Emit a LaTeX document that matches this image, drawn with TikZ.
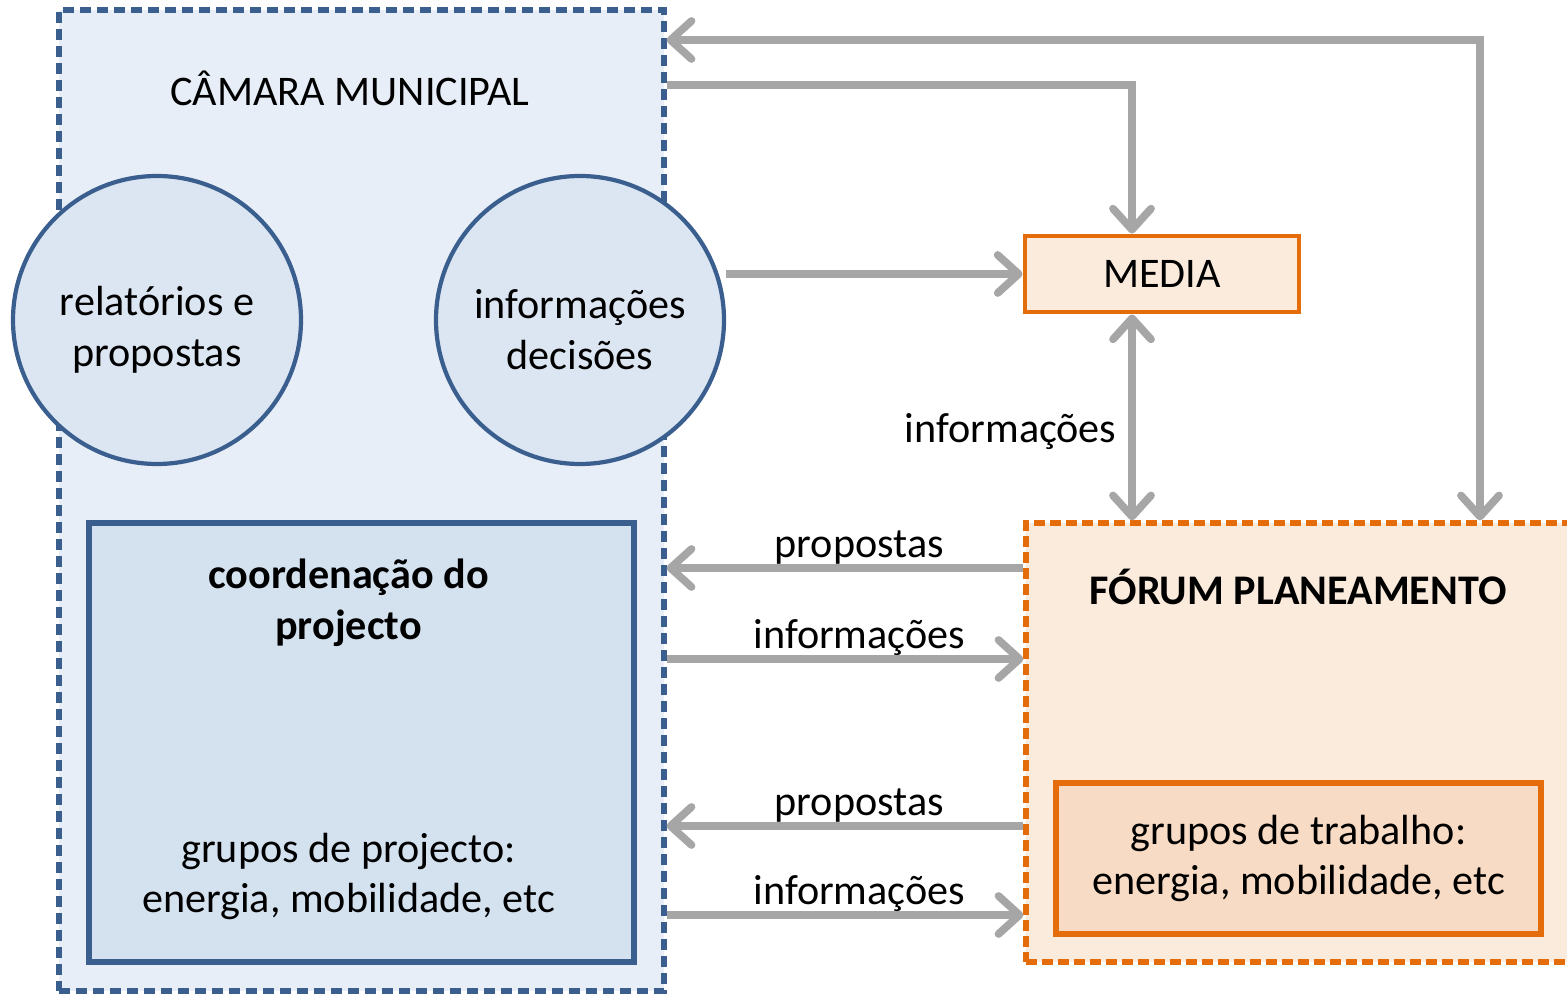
\documentclass[tikz,border=0pt]{standalone}
\usepackage{fontspec}
\setmainfont{Carlito}
\usepackage{tikz}
\usetikzlibrary{arrows.meta,positioning,calc}
\definecolor{cmborder}{HTML}{3A5F8F}
\definecolor{cmfill}{HTML}{E8EEF7}
\definecolor{bubblefill}{HTML}{DCE6F2}
\definecolor{coordfill}{HTML}{D4E2F0}
\definecolor{fpborder}{HTML}{E46C0A}
\definecolor{fpfill}{HTML}{FBEBDD}
\definecolor{wgfill}{HTML}{F8DBC4}
\definecolor{flowgray}{HTML}{A6A6A6}

\begin{document}
\begin{tikzpicture}[
	font=\fontsize{12}{14.5}\selectfont,
	>={Straight Barb[length=2.1mm,width=3.8mm,round]},
	camarabox/.style={draw=cmborder, fill=cmfill, line width=1.5pt, dash pattern=on 0.11cm off 0.06cm, minimum width=6.05cm, minimum height=9.81cm, inner sep=0pt},
	forumbox/.style={draw=fpborder, fill=fpfill, line width=1.5pt, dash pattern=on 0.11cm off 0.05cm, minimum width=5.5cm, minimum height=4.39cm, inner sep=0pt},
	bubble/.style={circle, draw=cmborder, fill=bubblefill, line width=1.2pt, minimum size=2.88cm, inner sep=0pt, label={[align=center, yshift=-0.1cm]center:#1}},
	solidbox/.style={draw=#1, line width=1.5pt, inner sep=0pt},
	flow/.style={draw=flowgray, line width=2.2pt}
	]
	\useasboundingbox (0,0) rectangle (15.67,-9.94);
	% camara municipal
	\node[camarabox] (camara) at (3.615,-5.005) {};
	\node (camaratitle) at (3.50,-0.88) {CÂMARA MUNICIPAL};
	\node[bubble={relatórios e\\propostas}] (relat) at (1.57,-3.20) {};
	\node[bubble={informações\\decisões}] (info) at (5.80,-3.20) {};
	\node[solidbox=cmborder, fill=coordfill, minimum width=5.45cm, minimum height=4.39cm] (coord) at (3.615,-7.425) {};
	\node[font=\fontsize{12}{14.5}\selectfont\bfseries, align=center] (coordtitle) at (3.485,-6.03) {coordenação do\\projecto};
	\node[align=center] (pgroups) at (3.485,-8.765) {grupos de projecto:\\energia, mobilidade, etc};
	% media
	\node[solidbox=fpborder, line width=1.4pt, fill=fpfill, minimum width=2.74cm, minimum height=0.76cm] (media) at (11.62,-2.74) {MEDIA};
	% forum
	\node[forumbox] (forum) at (13.01,-7.425) {};
	\node[font=\fontsize{12}{14.5}\selectfont\bfseries] (forumtitle) at (12.98,-5.87) {FÓRUM PLANEAMENTO};
	\node[solidbox=fpborder, fill=wgfill, minimum width=4.85cm, minimum height=1.51cm, align=center] (wgroups) at (12.985,-8.585) {grupos de trabalho:\\energia, mobilidade, etc};
	% connectors
	\coordinate (topturn) at (14.80,-0.40);
	\coordinate (mediaturn) at (11.32,-0.85);
	\draw[flow,<->] (camara.east |- topturn) -| (forum.north -| topturn);
	\draw[flow,->] (camara.east |- mediaturn) -| (media.north -| mediaturn);
	\draw[flow,->] (info.east |- media.west) -- (media.west);
	\draw[flow,<->] (media.south -| mediaturn) -- (forum.north -| mediaturn) node[pos=0.57, left=0pt] {informações};
	\foreach \y/\dir/\lbl in {5.68/<-/propostas, 6.59/->/informações, 8.26/<-/propostas, 9.15/->/informações}
		\draw[flow,\dir] (camara.east |- 0,-\y) -- (forum.west |- 0,-\y) node[pos=0.54, above=-3.5pt] {\lbl};
\end{tikzpicture}
\end{document}
